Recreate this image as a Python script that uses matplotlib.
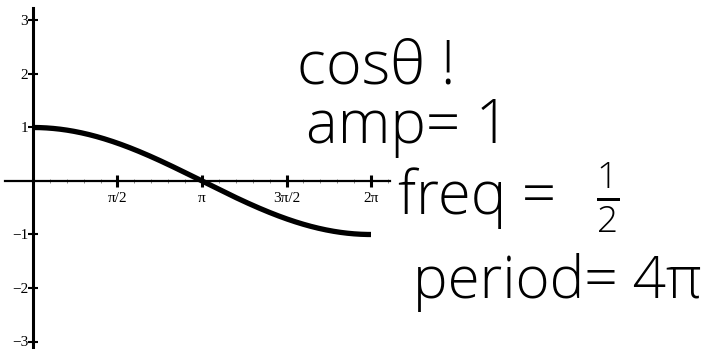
import numpy as np
import matplotlib
matplotlib.use("Agg")
import matplotlib.pyplot as plt

# curve parameters, as written next to the plot
amp = 1
freq = 0.5
theta_end = 2 * np.pi

x_ticks = [np.pi / 2, np.pi, 3 * np.pi / 2, 2 * np.pi]
x_tick_labels = ["π/2", "π", "3π/2", "2π"]
y_ticks = [-3, -2, -1, 1, 2, 3]
y_tick_labels = ["−3", "−2", "−1", "1", "2", "3"]

notes = ["cosθ !", "amp= 1", "freq =", "period= 4π"]

theta = np.linspace(0, theta_end, 400)
y = amp * np.cos(freq * theta)

plt.rcParams["mathtext.fontset"] = "custom"
plt.rcParams["mathtext.rm"] = "Open Sans:light"
plt.rcParams["mathtext.it"] = "Open Sans:light"

fig = plt.figure(figsize=(7.15, 3.49), dpi=100)
ax = fig.add_axes([0, 0, 1, 1])

# pixel layout: origin at (33, 181), pi/2 -> 84.5 px, 1 unit -> 53.5 px
ux = (np.pi / 2) / 84.5
uy = 1 / 53.5
ax.set_xlim(-33 * ux, (715 - 33) * ux)
ax.set_ylim(-(349 - 181) * uy, 181 * uy)

for s in ["top", "right"]:
    ax.spines[s].set_visible(False)
ax.spines["left"].set_position(("data", 0))
ax.spines["bottom"].set_position(("data", 0))
ax.spines["left"].set_bounds(-(349 - 181) * uy, (181 - 8) * uy)
ax.spines["bottom"].set_bounds(-28 * ux, (390 - 33) * ux)
ax.spines["left"].set_linewidth(2.2)
ax.spines["bottom"].set_linewidth(1.6)

ax.set_xticks(x_ticks)
ax.set_xticklabels(x_tick_labels)
ax.set_yticks(y_ticks)
ax.set_yticklabels(y_tick_labels)
ax.set_xticks(np.arange(np.pi / 10, 2.3 * np.pi, np.pi / 10), minor=True)

serif = ["Liberation Serif", "DejaVu Serif"]
ax.tick_params(axis="x", which="major", direction="inout", length=8, width=2.2,
               pad=4, labelsize=11)
ax.tick_params(axis="x", which="minor", direction="inout", length=3, width=0.6,
               color="#777777")
ax.tick_params(axis="y", which="major", direction="inout", length=7, width=1.5,
               pad=0, labelsize=11)
for lab in ax.get_xticklabels() + ax.get_yticklabels():
    lab.set_fontfamily(serif)

ax.plot(theta, y, color="black", linewidth=3.8, solid_capstyle="butt")

# handwritten notes, placed in figure pixels
hand = dict(family=["Open Sans", "DejaVu Sans"], fontweight="light",
            color="black", transform=None)
def px(x, yp):
    return x, 349 - yp

ax.text(*px(297, 83), notes[0], fontsize=44, **hand)
ax.text(*px(306, 143), notes[1], fontsize=43, **hand)
ax.text(*px(398, 214), notes[2], fontsize=43, **hand)
ax.text(*px(596, 214), r"$\frac{1}{2}$", fontsize=38, color="black",
        transform=None)
ax.text(*px(413, 298), notes[3], fontsize=42, **hand)

fig.savefig("out.png", dpi=100)
